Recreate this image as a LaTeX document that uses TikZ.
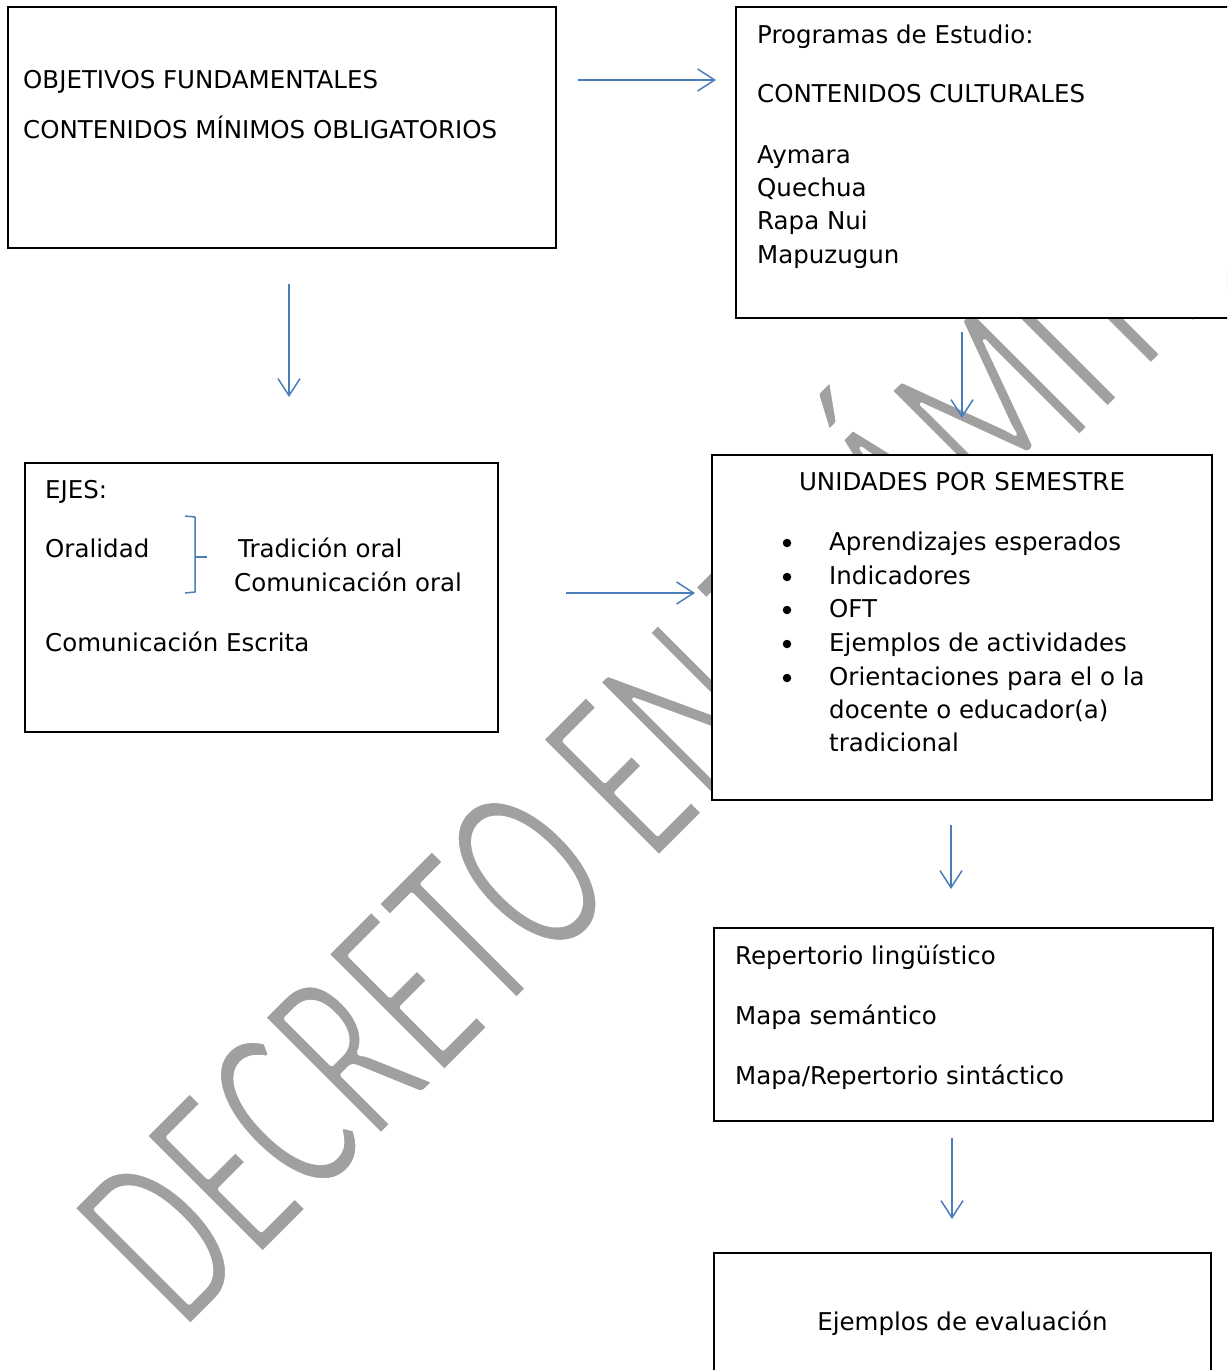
\documentclass[tikz,border=0pt]{standalone}
\usepackage{fontspec}
\setmainfont{DejaVu Sans}
\newfontfamily\wmfont{Carlito}
\usetikzlibrary{arrows.meta}
\definecolor{arrowblue}{RGB}{74,126,187}
\definecolor{wmgray}{RGB}{160,160,160}
\begin{document}
\begin{tikzpicture}[x=1pt,y=-1pt,
  box/.style={draw=black,line width=1.8pt,fill=white,inner sep=0pt,outer sep=0pt,rectangle},
  txt/.style={anchor=base west,inner sep=0pt,font=\fontsize{24.5}{29}\selectfont},
  ctxt/.style={txt,anchor=base},
  bul/.style={circle,fill=black,inner sep=0pt,minimum size=8.5pt},
  arr/.style={draw=arrowblue,line width=1.5pt,-{Straight Barb[length=17pt,width=22pt]}},
  wm/.style={inner sep=0pt,text=wmgray,font=\wmfont\fontsize{261}{300}\selectfont}
]
\useasboundingbox (0,0) rectangle (1227,1370);
\clip (0,0) rectangle (1227,1370);
\fill[white] (0,0) rectangle (1227,1370);

% watermark
\node[wm,rotate=45,anchor=base west] (wmark) at (183,1334) {\special{pdf:literal direct 1 G 6 w 1 j 1 J 2 Tr}\scalebox{0.634}[1]{DECRETO EN TRÁMITE}\special{pdf:literal direct 0 Tr}};

% boxes
\node[box,minimum width=548pt,minimum height=241pt] (b1) at (282,127.5) {};
\node[box,minimum width=614pt,minimum height=311pt] (b2) at (1043,162.5) {};
\node[box,minimum width=473pt,minimum height=269pt] (b3) at (261.5,597.5) {};
\node[box,minimum width=500pt,minimum height=345pt] (b4) at (962,627.5) {};
\node[box,minimum width=499pt,minimum height=193pt] (b5) at (963.5,1024.5) {};
\node[box,minimum width=497pt,minimum height=150pt] (b6) at (962.5,1328) {};

% box 1 text
\node[txt] (t11) at (23,89) {OBJETIVOS FUNDAMENTALES};
\node[txt] (t12) at (23,139) {CONTENIDOS MÍNIMOS OBLIGATORIOS};

% box 2 text
\node[txt] (t21) at (757,44) {Programas de Estudio:};
\node[txt] (t22) at (757,103) {CONTENIDOS CULTURALES};
\node[txt] (t23) at (757,163) {Aymara};
\node[txt] (t24) at (757,196) {Quechua};
\node[txt] (t25) at (757,229) {Rapa Nui};
\node[txt] (t26) at (757,263) {Mapuzugun};

% box 3 text
\node[txt] (t31) at (45,498) {EJES:};
\node[txt] (t32) at (45,557) {Oralidad};
\node[txt] (t33) at (238,557) {Tradición oral};
\node[txt] (t34) at (234,591) {Comunicación oral};
\node[txt] (t35) at (45,651) {Comunicación Escrita};
\draw[arrowblue,line width=1.5pt,line join=round] (185,516) -- (195,517) -- (195,592) -- (185,593);
\draw[arrowblue,line width=1.5pt] (195,557) -- (207,557);

% box 4 text
\node[ctxt] (t40) at (962,490) {UNIDADES POR SEMESTRE};
\foreach \y/\n in {543/1,577/2,610/3,644/4,678/5}{
  \node[bul] (bl\n) at (787,\y) {};
}
\node[txt] (t41) at (829,550) {Aprendizajes esperados};
\node[txt] (t42) at (829,584) {Indicadores};
\node[txt] (t43) at (829,617) {OFT};
\node[txt] (t44) at (829,651) {Ejemplos de actividades};
\node[txt] (t45) at (829,685) {Orientaciones para el o la};
\node[txt] (t46) at (829,718) {docente o educador(a)};
\node[txt] (t47) at (829,751) {tradicional};

% box 5 text
\node[txt] (t51) at (735,964) {Repertorio lingüístico};
\node[txt] (t52) at (735,1024) {Mapa semántico};
\node[txt] (t53) at (735,1084) {Mapa/Repertorio sintáctico};

% box 6 text
\node[ctxt] (t61) at (962.5,1330) {Ejemplos de evaluación};

% arrows
\coordinate (a1s) at (578,80);   \coordinate (a1e) at (716,80);
\coordinate (a2s) at (289,284);  \coordinate (a2e) at (289,397);
\coordinate (a3s) at (962,332);  \coordinate (a3e) at (962,418);
\coordinate (a4s) at (566,593);  \coordinate (a4e) at (695,593);
\coordinate (a5s) at (951,825);  \coordinate (a5e) at (951,889);
\coordinate (a6s) at (952,1138); \coordinate (a6e) at (952,1219);
\draw[arr] (a1s) -- (a1e);
\draw[arr] (a2s) -- (a2e);
\draw[arr] (a3s) -- (a3e);
\draw[arr] (a4s) -- (a4e);
\draw[arr] (a5s) -- (a5e);
\draw[arr] (a6s) -- (a6e);
\end{tikzpicture}
\end{document}
